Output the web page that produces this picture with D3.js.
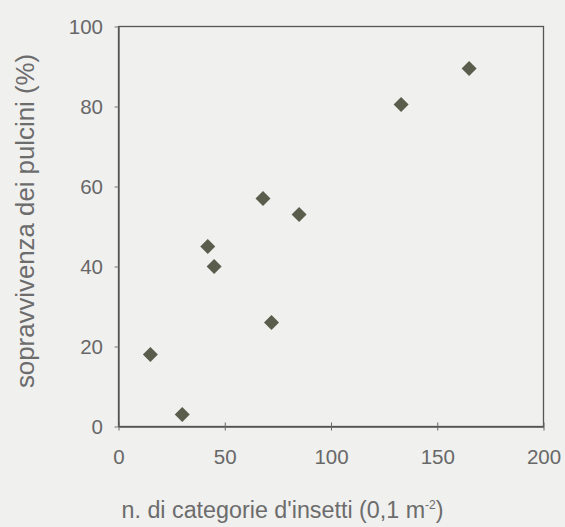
<!DOCTYPE html>
<html>
<head>
<meta charset="utf-8">
<script src="https://cdn.jsdelivr.net/npm/d3@7"></script>
<style>
  body { margin: 0; background: #f0f0ef; }
  svg { display: block; }
  .axis text { font-family: "Liberation Sans", Arial, sans-serif; fill: #686868; }
  .title { font-family: "Liberation Sans", Arial, sans-serif; fill: #6c6c6c; }
</style>
</head>
<body>
<div id="chart"></div>
<script>
// insect categories per 0.1 m2 vs chick survival (%)
var insetti = [15, 30, 42, 45, 68, 72, 85, 133, 165];
var sopravvivenza = [18, 3, 45, 40, 57, 26, 53, 80.5, 89.5];
var xTicks = [0, 50, 100, 150, 200];
var yTicks = [0, 20, 40, 60, 80, 100];

var W = 565, H = 527;
var margin = {top: 26.5, right: 21.5, bottom: 100.5, left: 118.5},
    width = W - margin.left - margin.right,
    height = H - margin.top - margin.bottom;

var svg = d3.select("#chart").append("svg")
    .attr("width", W)
    .attr("height", H);

var g = svg.append("g")
    .attr("transform", "translate(" + margin.left + "," + margin.top + ")");

var x = d3.scaleLinear().domain([0, 200]).range([0, width]);
var y = d3.scaleLinear().domain([0, 100]).range([height, 0]);

// frame
g.append("rect")
    .attr("width", width)
    .attr("height", height)
    .attr("fill", "none")
    .attr("stroke", "#555")
    .attr("stroke-width", 1.3);

var xAxis = g.append("g")
    .attr("class", "axis")
    .attr("transform", "translate(0," + height + ")")
    .call(d3.axisBottom(x).tickValues(xTicks).tickSizeOuter(0).tickSizeInner(4).tickPadding(19));
xAxis.selectAll(".tick line").attr("y1", -4).attr("stroke", "#666");

var yAxis = g.append("g")
    .attr("class", "axis")
    .call(d3.axisLeft(y).tickValues(yTicks).tickSizeOuter(0).tickSizeInner(4).tickPadding(11.5));
yAxis.selectAll(".tick line").attr("stroke", "#777");

svg.selectAll(".axis .domain").attr("stroke", "#555").attr("stroke-width", 1.3);
svg.selectAll(".axis text").style("font-size", "20.5px");

// points
g.selectAll(".pt")
    .data(insetti)
  .enter().append("path")
    .attr("class", "pt")
    .attr("d", d3.symbol().type(d3.symbolSquare).size(112))
    .attr("transform", function(d, i) {
        return "translate(" + x(d) + "," + y(sopravvivenza[i]) + ") rotate(45)";
    })
    .attr("fill", "#5a5c4c");

// titles
var xt = svg.append("text")
    .attr("class", "title")
    .attr("x", 121.5)
    .attr("y", 517.5)
    .style("font-size", "23.3px")
    .text("n. di categorie d'insetti (0,1 m");
xt.append("tspan")
    .attr("dy", -9)
    .style("font-size", "12px")
    .text("-2");
xt.append("tspan")
    .attr("dy", 9)
    .text(")");

svg.append("text")
    .attr("class", "title")
    .attr("transform", "translate(33.5," + 221 + ") rotate(-90)")
    .attr("text-anchor", "middle")
    .style("font-size", "25.8px")
    .text("sopravvivenza dei pulcini (%)");
</script>
</body>
</html>
